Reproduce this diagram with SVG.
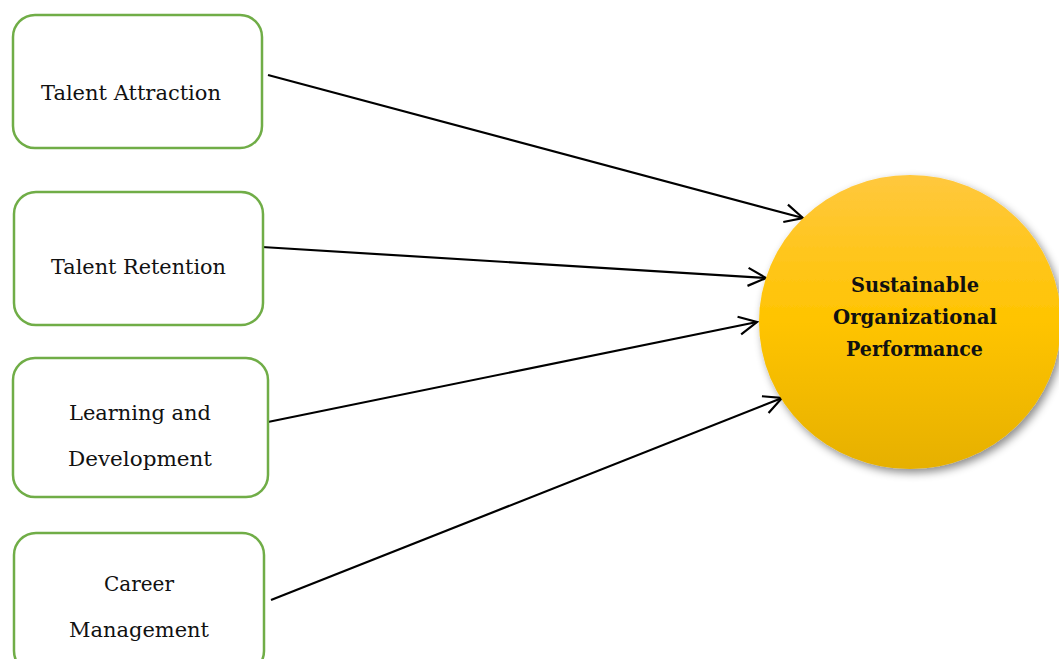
<svg xmlns="http://www.w3.org/2000/svg" width="1059" height="659" viewBox="0 0 1059 659">
<style>
.box{fill:#fff;stroke:#70AD47;stroke-width:2.5}
.lbl{font-family:"DejaVu Serif","Liberation Serif",serif;font-size:20.5px;fill:#111;text-anchor:middle}
.clbl{font-family:"DejaVu Serif","Liberation Serif",serif;font-size:20px;font-weight:bold;fill:#111;text-anchor:middle}
.conn{stroke:#000;stroke-width:2.2;fill:none;marker-end:url(#arr)}
</style>
<defs>
<marker id="arr" markerWidth="24" markerHeight="24" refX="20" refY="12" orient="auto" markerUnits="userSpaceOnUse">
<path d="M2,3 L20,12 L2,21" fill="none" stroke="#000" stroke-width="2.2"/>
</marker>
<linearGradient id="gold" x1="0" y1="0" x2="0" y2="1">
<stop offset="0" stop-color="#FFC83E"/>
<stop offset="0.5" stop-color="#FFC400"/>
<stop offset="1" stop-color="#E6B000"/>
</linearGradient>
<filter id="sh" x="-20%" y="-20%" width="140%" height="140%">
<feGaussianBlur in="SourceAlpha" stdDeviation="4"/>
<feOffset dx="3" dy="4" result="b"/>
<feFlood flood-color="#000" flood-opacity="0.45"/>
<feComposite in2="b" operator="in"/>
<feMerge><feMergeNode/><feMergeNode in="SourceGraphic"/></feMerge>
</filter>
</defs>
<g id="connectors">
<line class="conn" x1="268" y1="75" x2="803" y2="218"/>
<line class="conn" x1="262" y1="247" x2="766" y2="278"/>
<line class="conn" x1="263" y1="423" x2="757" y2="322"/>
<line class="conn" x1="271" y1="600" x2="782" y2="398"/>
</g>
<g id="talent-attraction">
<rect class="box" x="13" y="15" width="249" height="133" rx="22"/>
<text class="lbl" x="131" y="100" textLength="180" lengthAdjust="spacingAndGlyphs">Talent Attraction</text>
</g>
<g id="talent-retention">
<rect class="box" x="14" y="192" width="249" height="133" rx="22"/>
<text class="lbl" x="138.5" y="274" textLength="175" lengthAdjust="spacingAndGlyphs">Talent Retention</text>
</g>
<g id="learning-development">
<rect class="box" x="13" y="358" width="255" height="139" rx="22"/>
<text class="lbl" x="140" y="420" textLength="142" lengthAdjust="spacingAndGlyphs">Learning and</text>
<text class="lbl" x="140" y="466" textLength="144" lengthAdjust="spacingAndGlyphs">Development</text>
</g>
<g id="career-management">
<rect class="box" x="14" y="533" width="250" height="140" rx="22"/>
<text class="lbl" x="139" y="591" textLength="70" lengthAdjust="spacingAndGlyphs">Career</text>
<text class="lbl" x="139" y="637" textLength="140" lengthAdjust="spacingAndGlyphs">Management</text>
</g>
<g id="sustainable-performance">
<ellipse cx="910" cy="322" rx="151" ry="147" fill="url(#gold)" filter="url(#sh)"/>
<text class="clbl" x="915" y="292" textLength="128" lengthAdjust="spacingAndGlyphs">Sustainable</text>
<text class="clbl" x="915" y="324" textLength="164" lengthAdjust="spacingAndGlyphs">Organizational</text>
<text class="clbl" x="914.5" y="356" textLength="137" lengthAdjust="spacingAndGlyphs">Performance</text>
</g>
</svg>
